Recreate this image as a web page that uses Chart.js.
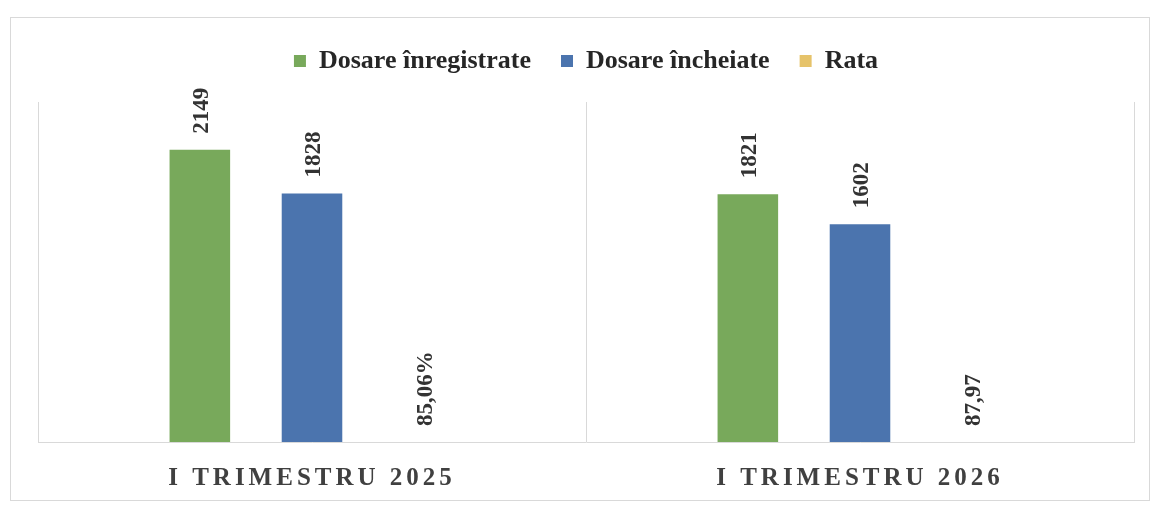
<!DOCTYPE html>
<html>
<head>
<meta charset="utf-8">
<script src="https://cdn.jsdelivr.net/npm/chart.js@4.4.1/dist/chart.umd.min.js"></script>
<style>
    html, body { margin: 0; padding: 0; background: #fff; }
    .chart-frame {
        position: absolute;
        left: 10px;
        top: 17px;
        width: 1138px;
        height: 482px;
        border: 1px solid #d9d9d9;
    }
    .chart-frame canvas { display: block; }
</style>
</head>
<body>
<div class="chart-frame"><canvas id="chart" width="1138" height="482"></canvas></div>
<script>
const categories = ['I TRIMESTRU 2025', 'I TRIMESTRU 2026'];
const seriesNames = ['Dosare înregistrate', 'Dosare încheiate', 'Rata'];
const inregistrate = [2149, 1821];
const incheiate = [1828, 1602];
const rata = [0.8506, 0.8797];
const rataLabels = ['85,06%', '87,97'];

const GREEN = '#78a95b';
const BLUE = '#4b74ae';
const YELLOW = '#e6c36a';
const FONT = '"Liberation Serif", "Times New Roman", serif';

// value labels, rotated like the original
const barLabels = {
    id: 'barLabels',
    afterDatasetsDraw(chart) {
        const ctx = chart.ctx;
        ctx.save();
        ctx.font = 'bold 23px ' + FONT;
        ctx.fillStyle = '#333333';
        ctx.textAlign = 'left';
        ctx.textBaseline = 'middle';
        chart.data.datasets.forEach((ds, di) => {
            chart.getDatasetMeta(di).data.forEach((bar, i) => {
                const text = ds.valueLabels ? ds.valueLabels[i] : String(ds.data[i]);
                ctx.save();
                ctx.translate(bar.x + 2, bar.y - 16);
                ctx.rotate(-Math.PI / 2);
                ctx.fillText(text, 0, 0);
                ctx.restore();
            });
        });
        ctx.restore();
    },
};

// category labels are letter spaced in the original
const spacedTicks = {
    id: 'spacedTicks',
    beforeDraw(chart) {
        const scale = chart.scales.x;
        if (scale.drawLabels.spaced) return;
        const draw = scale.drawLabels;
        scale.drawLabels = function (area) {
            this.ctx.save();
            this.ctx.letterSpacing = '4px';
            draw.call(this, area);
            this.ctx.restore();
        };
        scale.drawLabels.spaced = true;
    },
};

// extra room between legend and plot
const legendGap = {
    id: 'legendGap',
    beforeInit(chart) {
        const fit = chart.legend.fit;
        chart.legend.fit = function () {
            fit.call(this);
            this.height += 18;
        };
    },
};

new Chart(document.getElementById('chart'), {
    type: 'bar',
    plugins: [barLabels, spacedTicks, legendGap],
    data: {
        labels: categories,
        datasets: [
            { label: seriesNames[0], data: inregistrate, backgroundColor: GREEN },
            { label: seriesNames[1], data: incheiate, backgroundColor: BLUE },
            { label: seriesNames[2], data: rata, backgroundColor: YELLOW, valueLabels: rataLabels },
        ],
    },
    options: {
        responsive: false,
        animation: false,
        events: [],
        datasets: {
            bar: {
                categoryPercentage: 0.614,
                barPercentage: 0.54,
            },
        },
        layout: {
            padding: { left: 27, right: 15, top: 0, bottom: -16 },
        },
        plugins: {
            legend: {
                position: 'top',
                labels: {
                    boxWidth: 12,
                    boxHeight: 12,
                    padding: 30,
                    color: '#262626',
                    font: { family: FONT, size: 26, weight: 'bold' },
                },
            },
            tooltip: { enabled: false },
        },
        scales: {
            x: {
                grid: {
                    display: true,
                    offset: true,
                    drawTicks: false,
                    color: '#d9d9d9',
                },
                border: { display: true, color: '#d9d9d9' },
                ticks: {
                    padding: 22,
                    color: '#404040',
                    font: { family: FONT, size: 25, weight: 'bold' },
                },
            },
            y: {
                display: false,
                min: 0,
                max: 2500,
            },
        },
    },
});
</script>
</body>
</html>
